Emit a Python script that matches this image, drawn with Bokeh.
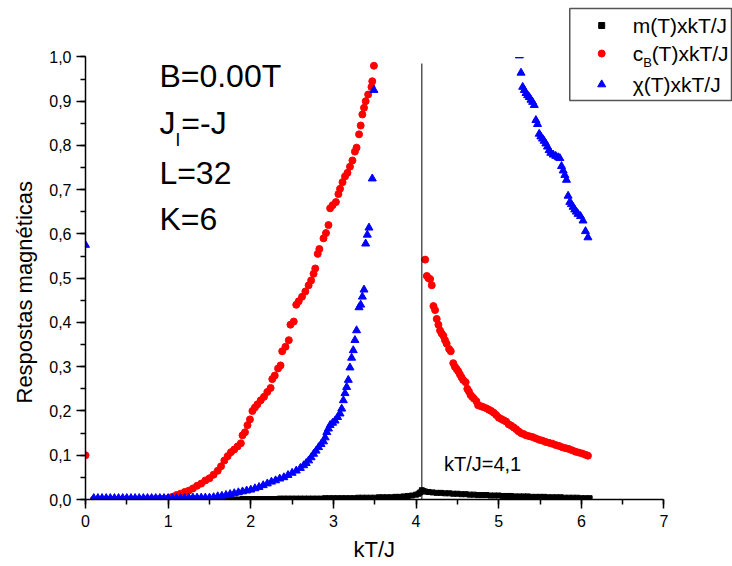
from bokeh.plotting import figure
from bokeh.models import Range1d, SingleIntervalTicker, CustomJSTickFormatter, Title
from bokeh.core.properties import value
from bokeh.embed import file_html
from bokeh.resources import INLINE

# ---------------- data ----------------
m_T = [0.10, 0.15, 0.20, 0.25, 0.30, 0.35, 0.40, 0.45, 0.50, 0.55, 0.60, 0.65, 0.70, 0.75,
       0.80, 0.85, 0.90, 0.95, 1.00, 1.05, 1.10, 1.15, 1.20, 1.25, 1.30, 1.35, 1.40, 1.45,
       1.50, 1.55, 1.60, 1.65, 1.70, 1.75, 1.80, 1.85, 1.90, 1.95, 2.00, 2.05, 2.10, 2.15,
       2.20, 2.25, 2.30, 2.35, 2.40, 2.45, 2.50, 2.55, 2.60, 2.65, 2.70, 2.75, 2.80, 2.85,
       2.90, 2.95, 3.00, 3.05, 3.10, 3.15, 3.20, 3.25, 3.30, 3.35, 3.40, 3.45, 3.50, 3.55,
       3.60, 3.65, 3.70, 3.75, 3.80, 3.85, 3.90, 3.95, 4.00, 4.03, 4.05, 4.07, 4.09, 4.11,
       4.15, 4.20, 4.25, 4.30, 4.35, 4.40, 4.45, 4.50, 4.55, 4.60, 4.65, 4.70, 4.75, 4.80,
       4.85, 4.90, 4.95, 5.00, 5.05, 5.10, 5.15, 5.20, 5.25, 5.30, 5.35, 5.40, 5.45, 5.50,
       5.55, 5.60, 5.65, 5.70, 5.75, 5.80, 5.85, 5.90, 5.95, 6.00, 6.05, 6.10]
m_val = [0.000, 0.000, 0.000, 0.000, 0.000, 0.000, 0.000, 0.000, 0.000, 0.000, 0.000, 0.000,
         0.000, 0.000, 0.000, 0.000, 0.000, 0.000, 0.000, 0.000, 0.000, 0.000, 0.000, 0.000,
         0.000, 0.000, 0.000, 0.000, 0.000, 0.000, 0.000, 0.000, 0.000, 0.000, 0.000, 0.000,
         0.001, 0.001, 0.001, 0.001, 0.001, 0.001, 0.001, 0.001, 0.001, 0.002, 0.002, 0.002,
         0.002, 0.002, 0.002, 0.002, 0.002, 0.002, 0.002, 0.002, 0.003, 0.003, 0.003, 0.003,
         0.003, 0.003, 0.003, 0.003, 0.004, 0.004, 0.004, 0.004, 0.004, 0.005, 0.005, 0.005,
         0.005, 0.006, 0.006, 0.007, 0.008, 0.009, 0.011, 0.013, 0.016, 0.021, 0.019, 0.018,
         0.017, 0.016, 0.015, 0.015, 0.014, 0.014, 0.013, 0.013, 0.012, 0.012, 0.011, 0.011,
         0.010, 0.010, 0.010, 0.009, 0.009, 0.009, 0.008, 0.008, 0.008, 0.007, 0.007, 0.007,
         0.007, 0.006, 0.006, 0.006, 0.006, 0.005, 0.005, 0.005, 0.005, 0.004, 0.004, 0.004,
         0.004, 0.003, 0.003, 0.003]

cB_T = [0.00, 0.10, 0.15, 0.20, 0.25, 0.30, 0.35, 0.40, 0.45, 0.50, 0.55, 0.60, 0.65, 0.70,
        0.75, 0.80, 0.85, 0.90, 0.95, 1.00, 1.05, 1.10, 1.15, 1.20, 1.25, 1.30, 1.35, 1.40,
        1.45, 1.50, 1.55, 1.60, 1.64, 1.68, 1.72, 1.76, 1.80, 1.84, 1.88, 1.90, 1.93, 1.96,
        1.99, 2.02, 2.05, 2.08, 2.12, 2.16, 2.20, 2.24, 2.26, 2.29, 2.33, 2.36, 2.38, 2.42,
        2.46, 2.48, 2.52, 2.55, 2.58, 2.62, 2.66, 2.70, 2.73, 2.76, 2.78, 2.81, 2.83, 2.88,
        2.91, 2.94, 2.96, 2.99, 3.03, 3.06, 3.08, 3.11, 3.14, 3.17, 3.20, 3.23, 3.26, 3.28,
        3.31, 3.33, 3.35, 3.37, 3.39, 3.42, 3.46, 3.47, 3.49,
        4.11, 4.13, 4.15, 4.17, 4.19, 4.21, 4.23, 4.25, 4.27, 4.29, 4.31, 4.33, 4.35, 4.37,
        4.40, 4.42, 4.45, 4.47, 4.49, 4.51, 4.53, 4.55, 4.57, 4.60, 4.62, 4.64, 4.66, 4.68,
        4.70, 4.73, 4.75, 4.78, 4.81, 4.85, 4.88, 4.91, 4.94, 4.97, 5.00, 5.03, 5.06, 5.09,
        5.12, 5.15, 5.18, 5.21, 5.24, 5.27, 5.30, 5.33, 5.37, 5.41, 5.45, 5.49, 5.53, 5.57,
        5.61, 5.65, 5.69, 5.73, 5.77, 5.81, 5.85, 5.89, 5.93, 5.97, 6.01, 6.05, 6.08]
cB_val = [0.100, 0.000, 0.000, 0.000, 0.000, 0.000, 0.000, 0.000, 0.000, 0.000, 0.000, 0.000,
          0.000, 0.000, 0.001, 0.001, 0.001, 0.002, 0.002, 0.003, 0.006, 0.010, 0.013, 0.017,
          0.020, 0.025, 0.031, 0.036, 0.043, 0.048, 0.056, 0.065, 0.075, 0.088, 0.098, 0.107,
          0.113, 0.120, 0.127, 0.145, 0.152, 0.168, 0.181, 0.200, 0.208, 0.215, 0.224, 0.232,
          0.243, 0.252, 0.272, 0.280, 0.296, 0.303, 0.335, 0.345, 0.360, 0.395, 0.402, 0.440,
          0.448, 0.458, 0.470, 0.484, 0.495, 0.510, 0.522, 0.555, 0.566, 0.590, 0.602, 0.620,
          0.658, 0.665, 0.672, 0.690, 0.702, 0.717, 0.730, 0.738, 0.752, 0.766, 0.786, 0.795,
          0.825, 0.845, 0.870, 0.885, 0.900, 0.915, 0.932, 0.945, 0.980,
          0.542, 0.505, 0.500, 0.498, 0.484, 0.437, 0.428, 0.408, 0.395, 0.382, 0.375, 0.370,
          0.360, 0.352, 0.340, 0.335, 0.308, 0.300, 0.295, 0.290, 0.283, 0.276, 0.270, 0.265,
          0.250, 0.244, 0.236, 0.232, 0.228, 0.222, 0.213, 0.211, 0.209, 0.206, 0.203, 0.200,
          0.196, 0.191, 0.185, 0.182, 0.179, 0.176, 0.170, 0.167, 0.163, 0.159, 0.154, 0.150,
          0.148, 0.145, 0.143, 0.141, 0.138, 0.135, 0.133, 0.130, 0.128, 0.126, 0.123, 0.121,
          0.118, 0.116, 0.114, 0.111, 0.108, 0.106, 0.104, 0.101, 0.099]

chi_T = [0.00, 0.10, 0.15, 0.20, 0.25, 0.30, 0.35, 0.40, 0.45, 0.50, 0.55, 0.60, 0.65, 0.70,
         0.75, 0.80, 0.85, 0.90, 0.95, 1.00, 1.05, 1.10, 1.15, 1.20, 1.25, 1.30, 1.35, 1.40,
         1.45, 1.50, 1.55, 1.60, 1.65, 1.70, 1.75, 1.80, 1.85, 1.90, 1.95, 2.00, 2.05, 2.10,
         2.15, 2.20, 2.25, 2.30, 2.35, 2.40, 2.45, 2.50, 2.55, 2.60, 2.64, 2.67, 2.70, 2.73,
         2.76, 2.79, 2.82, 2.85, 2.88, 2.90, 2.92, 2.94, 2.96, 2.99, 3.02, 3.05, 3.08, 3.10,
         3.12, 3.14, 3.16, 3.18, 3.20, 3.22, 3.24, 3.26, 3.28, 3.31, 3.33, 3.35, 3.37, 3.39,
         3.41, 3.43, 3.47, 3.49,
         5.25, 5.27, 5.29, 5.31, 5.33, 5.35, 5.37, 5.39, 5.41, 5.43, 5.45, 5.47, 5.49, 5.51,
         5.53, 5.55, 5.57, 5.59, 5.61, 5.63, 5.66, 5.69, 5.72, 5.74, 5.76, 5.78, 5.80, 5.82,
         5.84, 5.86, 5.88, 5.90, 5.92, 5.94, 5.96, 5.99, 6.02, 6.05, 6.08]
chi_val = [0.575, 0.003, 0.003, 0.003, 0.003, 0.003, 0.003, 0.003, 0.003, 0.003, 0.003, 0.003,
           0.003, 0.003, 0.003, 0.003, 0.003, 0.003, 0.003, 0.003, 0.003, 0.003, 0.003, 0.004,
           0.004, 0.004, 0.004, 0.004, 0.004, 0.004, 0.005, 0.007, 0.008, 0.010, 0.012, 0.014,
           0.016, 0.018, 0.020, 0.022, 0.025, 0.028, 0.032, 0.036, 0.040, 0.043, 0.047, 0.050,
           0.055, 0.060, 0.065, 0.071, 0.077, 0.082, 0.088, 0.095, 0.103, 0.110, 0.118, 0.125,
           0.131, 0.140, 0.152, 0.160, 0.168, 0.173, 0.178, 0.186, 0.194, 0.205, 0.224, 0.240,
           0.254, 0.270, 0.298, 0.320, 0.337, 0.360, 0.382, 0.434, 0.440, 0.458, 0.474, 0.578,
           0.598, 0.614, 0.725, 0.925,
           1.003, 0.964, 0.932, 0.925, 0.918, 0.913, 0.909, 0.903, 0.898, 0.891, 0.857, 0.848,
           0.826, 0.820, 0.815, 0.810, 0.804, 0.797, 0.789, 0.783, 0.779, 0.776, 0.773, 0.771,
           0.753, 0.743, 0.733, 0.722, 0.686, 0.672, 0.667, 0.661, 0.655, 0.650, 0.645, 0.640,
           0.630, 0.606, 0.592]

Tc = 4.07
Tc_line_top = 0.985
series_labels = ["m(T)xkT/J", "c", "B", "(T)xkT/J", "\u03c7(T)xkT/J"]
info_lines = ["B=0.00T", "J", "l", "=-J", "L=32", "K=6"]
tc_label = "kT/J=4,1"
x_title = "kT/J"
y_title = "Respostas magnéticas"

# ---------------- layout helpers (pixel -> data, for annotation placement) ----------------
FRAME_LEFT = 84
FRAME_BOTTOM = 499
PX_X = 82.77
PX_Y = 442.6
W, H = 732, 566


def dx(px):
    return (px - FRAME_LEFT) / PX_X


def dy(py):
    return (FRAME_BOTTOM - py) / PX_Y


FONT = "Liberation Sans"

p = figure(width=W, height=H, output_backend="svg", toolbar_location=None,
           x_range=Range1d(0, (W - FRAME_LEFT) / PX_X),
           y_range=Range1d(0, FRAME_BOTTOM / PX_Y),
           min_border_left=FRAME_LEFT, min_border_right=0, min_border_top=0,
           min_border_bottom=H - FRAME_BOTTOM, title=None)
p.outline_line_color = None
p.grid.visible = False
p.background_fill_color = "white"
p.border_fill_color = "white"

p.xaxis.bounds = (0, 7)
p.xaxis.ticker = SingleIntervalTicker(interval=1, num_minor_ticks=2)
p.yaxis.bounds = (0, 1)
p.yaxis.ticker = SingleIntervalTicker(interval=0.1, num_minor_ticks=2)
p.yaxis.formatter = CustomJSTickFormatter(code="return tick.toFixed(1).replace('.', ',');")
for ax in (p.xaxis, p.yaxis):
    ax.axis_line_width = 1.5
    ax.axis_line_color = "black"
    ax.major_tick_line_width = 1.5
    ax.minor_tick_line_width = 1.5
    ax.major_tick_out = 9
    ax.major_tick_in = 0
    ax.minor_tick_out = 5
    ax.minor_tick_in = 0
    ax.major_label_text_font = FONT
    ax.major_label_text_font_size = "16px"
    ax.major_label_text_color = "black"
p.xaxis.major_label_standoff = 6
p.yaxis.major_label_standoff = 5

# axis titles as side titles, so they can be centred on the drawn axis span (not the frame)
p.add_layout(Title(text=x_title, align="left", offset=268, standoff=10,
                   text_font=FONT, text_font_size="22px", text_font_style="normal",
                   text_color="black"), "below")
p.add_layout(Title(text=y_title, align="left", offset=96, standoff=19,
                   text_font=FONT, text_font_size="22px", text_font_style="normal",
                   text_color="black"), "left")

# data
p.scatter(m_T, m_val, marker="square", size=5, color="black")
p.scatter(cB_T, cB_val, marker="circle", size=7, color="red")
p.scatter(chi_T, chi_val, marker="triangle", size=8, color="blue")

# vertical marker at Tc
p.segment(x0=[Tc], y0=[0], x1=[Tc], y1=[Tc_line_top], line_color="black", line_width=1)

# clip everything above the y axis end (1,0)
p.quad(left=[0], right=[(W - FRAME_LEFT) / PX_X], bottom=[1.0], top=[FRAME_BOTTOM / PX_Y + 0.05],
       fill_color="white", line_color=None)

# legend box
p.quad(left=[dx(569)], right=[dx(731)], top=[dy(8)], bottom=[dy(100)],
       fill_color="white", line_color="#555555", line_width=1.5)
p.scatter([dx(601)], [dy(25)], marker="square", size=6, color="black")
p.scatter([dx(601)], [dy(53)], marker="circle", size=7, color="red")
p.scatter([dx(601)], [dy(84)], marker="triangle", size=8, color="blue")


def txt(px, py, s, size):
    p.text(x=[dx(px)], y=[dy(py)], text=[s], text_font=value(FONT),
           text_font_size=value(size), text_baseline="middle", text_align="left",
           text_color="black")


txt(632, 25, series_labels[0], "21px")
txt(632, 53, series_labels[1], "21px")
txt(642.5, 62, series_labels[2], "13px")
txt(651, 53, series_labels[3], "21px")
txt(632, 84, series_labels[4], "21px")

# info block
txt(158, 75, info_lines[0], "32px")
txt(158, 122, info_lines[1], "32px")
txt(174.5, 139, info_lines[2], "19px")
txt(180, 122, info_lines[3], "32px")
txt(158, 172, info_lines[4], "32px")
txt(158, 218, info_lines[5], "32px")

# Tc label
txt(443, 463, tc_label, "20px")

open("out.html", "w").write(file_html(p, INLINE))
